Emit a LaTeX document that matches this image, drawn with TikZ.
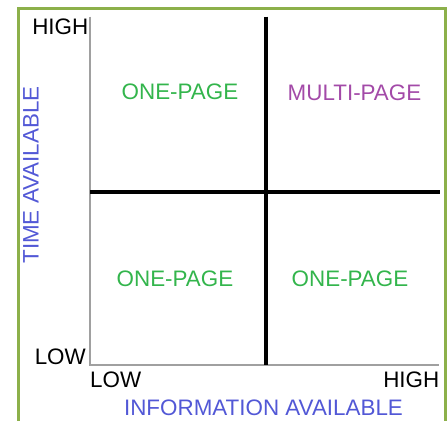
\documentclass[tikz,border=0pt]{standalone}
\usepackage{fontspec}
\setmainfont{Liberation Sans}
\definecolor{framegreen}{HTML}{8CB04A}
\definecolor{txtgreen}{HTML}{33B54C}
\definecolor{txtpurple}{HTML}{A34AA8}
\definecolor{txtblue}{HTML}{5258D6}
\definecolor{axisgray}{HTML}{A0A0A0}
\begin{document}
\begin{tikzpicture}[x=1pt,y=-1pt,
  lbl/.style={inner sep=0pt,font=\fontsize{22.4}{26}\selectfont},
  axisline/.style={draw=axisgray,line width=1.2pt},
  quadline/.style={draw=black,line width=4pt},
  frameline/.style={draw=framegreen,line width=2.2pt}]
\useasboundingbox (0,0) rectangle (448,421);
% frame
\coordinate (FBL) at (18.5,425);
\coordinate (FTL) at (18.5,8.5);
\coordinate (FTR) at (445.5,8.5);
\coordinate (FBR) at (445.5,425);
\draw[frameline] (FBL) -- (FTL) -- (FTR) -- (FBR);
% axes
\coordinate (O) at (90,365);
\coordinate (T) at (90,16.5);
\coordinate (R) at (439,365);
\draw[axisline] (T) -- (O) -- (R);
% quadrant lines
\coordinate (VT) at (265.5,16.5);
\coordinate (VB) at (265.5,365);
\coordinate (HL) at (90,191.5);
\coordinate (HR) at (440,191.5);
\draw[quadline] (VT) -- (VB);
\draw[quadline] (HL) -- (HR);
% axis labels
\node[lbl,anchor=east] (yhigh) at (88.5,26.5) {HIGH};
\node[lbl,anchor=east] (ylow) at (86,357) {LOW};
\node[lbl,anchor=west] (xlow) at (90,380) {LOW};
\node[lbl,anchor=east] (xhigh) at (439.5,380) {HIGH};
\node[lbl,text=txtblue,rotate=90] (ylab) at (31,175) {TIME AVAILABLE};
\node[lbl,text=txtblue] (xlab) at (263.5,408) {INFORMATION AVAILABLE};
% quadrant texts
\node[lbl,text=txtgreen] (q1) at (180,91.5) {ONE-PAGE};
\node[lbl,text=txtpurple] (q2) at (354.5,93) {MULTI-PAGE};
\node[lbl,text=txtgreen] (q3) at (175,279) {ONE-PAGE};
\node[lbl,text=txtgreen] (q4) at (350,279) {ONE-PAGE};
\end{tikzpicture}
\end{document}
